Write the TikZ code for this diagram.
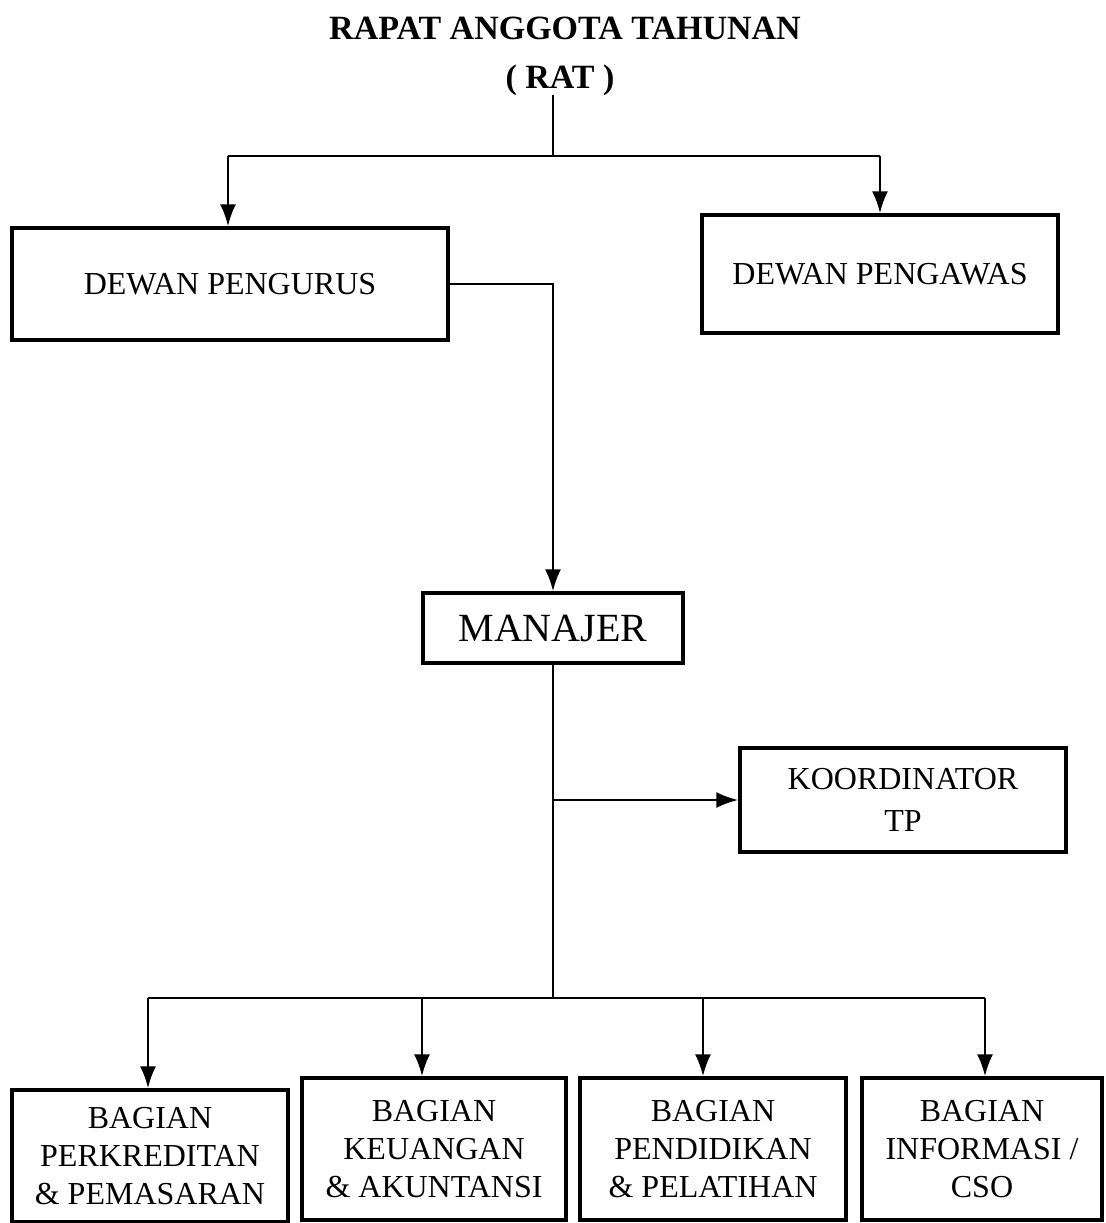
\documentclass[tikz,border=0pt]{standalone}
\usepackage{fontspec}
\setmainfont{Liberation Serif}
\usetikzlibrary{arrows.meta}
\begin{document}
\begin{tikzpicture}[x=0.5pt,y=0.5pt,yscale=-1,xscale=1,
    unitbox/.style={draw, line width=1.6pt, align=center, inner sep=0pt, font=\fontsize{16}{19}\selectfont},
    link/.style={line width=1.4pt},
    arr/.style={line width=1.4pt, -{Latex[length=11pt,width=8pt]}}]
    \useasboundingbox (0,0) rectangle (1106,1223);
    % title
    \node (title) at (565,28) {\fontsize{17}{20}\selectfont\bfseries RAPAT ANGGOTA TAHUNAN};
    \node (rat) at (560,80) {\fontsize{17}{20}\selectfont\bfseries ( RAT )};
    % boxes
    \node [unitbox, minimum width=218pt, minimum height=56pt, text depth=-6pt] (pengurus) at (230,284) {DEWAN PENGURUS};
    \node [unitbox, minimum width=178pt, minimum height=59pt, text depth=-6pt] (pengawas) at (880,274) {DEWAN PENGAWAS};
    \node [unitbox, minimum width=130pt, minimum height=35pt, font=\fontsize{20}{24}\selectfont] (manajer) at (553,628) {MANAJER};
    \node [unitbox, minimum width=163pt, minimum height=52pt] (koord) at (903,800) {KOORDINATOR\\[2pt]TP};
    \node [unitbox, minimum width=138pt, minimum height=66pt] (kredit) at (150,1156) {BAGIAN\\PERKREDITAN\\\& PEMASARAN};
    \node [unitbox, minimum width=132pt, minimum height=71pt] (keuangan) at (434,1149) {BAGIAN\\KEUANGAN\\\& AKUNTANSI};
    \node [unitbox, minimum width=133pt, minimum height=71pt] (didik) at (713,1149) {BAGIAN\\PENDIDIKAN\\\& PELATIHAN};
    \node [unitbox, minimum width=120pt, minimum height=71pt] (info) at (982,1149) {BAGIAN\\INFORMASI /\\CSO};
    % junctions
    \coordinate (top) at (553,95);
    \coordinate (topmid) at (553,156);
    \coordinate (topleft) at (228,156);
    \coordinate (topright) at (880,156);
    \coordinate (side) at (553,800);
    \coordinate (low) at (553,998);
    \coordinate (low1) at (148,998);
    \coordinate (low2) at (422,998);
    \coordinate (low3) at (703,998);
    \coordinate (low4) at (985,998);
    % connectors
    \draw [link] (top) -- (topmid);
    \draw [link] (topleft) -- (topright);
    \draw [arr] (topleft) -- (topleft |- pengurus.north);
    \draw [arr] (topright) -- (pengawas.north);
    \draw [arr] (pengurus.east) -| (manajer.north);
    \draw [link] (manajer.south) -- (low);
    \draw [arr] (side) -- (koord.west);
    \draw [link] (low1) -- (low4);
    \draw [arr] (low1) -- (low1 |- kredit.north);
    \draw [arr] (low2) -- (low2 |- keuangan.north);
    \draw [arr] (low3) -- (low3 |- didik.north);
    \draw [arr] (low4) -- (low4 |- info.north);
\end{tikzpicture}
\end{document}
